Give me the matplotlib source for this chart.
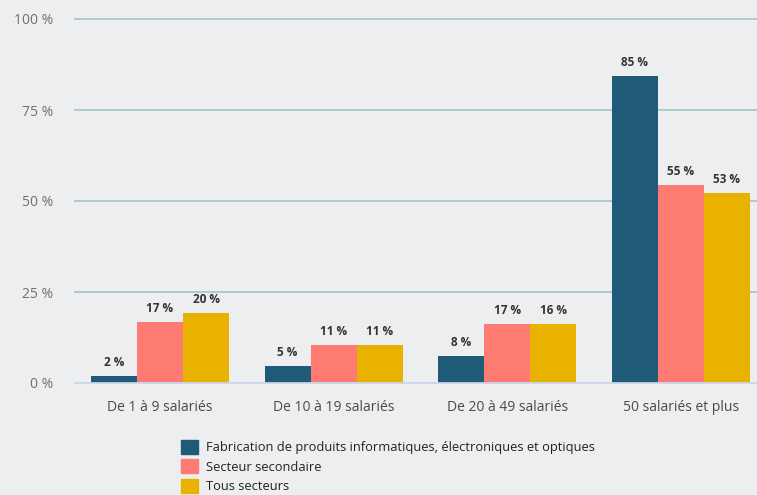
import numpy as np
import matplotlib.pyplot as plt
from matplotlib.patches import Patch

plt.rcParams['font.family'] = ['Open Sans', 'DejaVu Sans']

categories = ['De 1 à 9 salariés', 'De 10 à 19 salariés', 'De 20 à 49 salariés', '50 salariés et plus']
series = ['Fabrication de produits informatiques, électroniques et optiques',
          'Secteur secondaire', 'Tous secteurs']
fab = [1.9, 4.7, 7.4, 84.3]
secondaire = [16.8, 10.5, 16.3, 54.5]
tous = [19.3, 10.5, 16.3, 52.3]
fab_labels = ['2 %', '5 %', '8 %', '85 %']
secondaire_labels = ['17 %', '11 %', '17 %', '55 %']
tous_labels = ['20 %', '11 %', '16 %', '53 %']
yticks = [0, 25, 50, 75, 100]

colors = ['#1F5B78', '#FD7B73', '#E9B200']
bg = '#EDEEF0'

fig = plt.figure(figsize=(7.57, 4.95), dpi=100, facecolor=bg)
ax = fig.add_axes([75/757, 1-383/495, 1-75/757, (383-19)/495])
ax.set_facecolor(bg)

x = np.arange(len(categories))
w = 0.265
for i, (vals, labs) in enumerate([(fab, fab_labels), (secondaire, secondaire_labels), (tous, tous_labels)]):
    pos = x + (i - 1) * w
    ax.bar(pos, vals, width=w, color=colors[i], zorder=3)
    for px, v, lab in zip(pos, vals, labs):
        ax.annotate(lab, (px, v), xytext=(0, 5), textcoords='offset points',
                    ha='center', va='bottom', fontsize=8.5, fontweight='bold', color='#333333')

ax.set_xlim(-0.49, 3.44)
ax.set_ylim(0, 100)
ax.set_yticks(yticks)
ax.set_yticklabels([f'{t} %' for t in yticks], color='#707070', fontsize=10)
ax.set_xticks(x)
ax.set_xticklabels(categories, color='#4a4a4a', fontsize=10)
ax.tick_params(axis='y', length=0, pad=16)
ax.tick_params(axis='x', length=0, pad=12)
for t in yticks[1:]:
    ax.axhline(t, color='#A3CAC6', linewidth=1.3, zorder=1, clip_on=False)
ax.axhline(0, color='#C9D5E9', linewidth=1.3, zorder=4, clip_on=False)
for s in ax.spines.values():
    s.set_visible(False)

handles = [Patch(color=c) for c in colors]
fig.legend(handles, series, loc='upper left', bbox_to_anchor=(181/757, 1-440/495),
           frameon=False, fontsize=9.3, handlelength=1.3, handleheight=1.3,
           handletextpad=0.65, labelspacing=0.38, borderpad=0, borderaxespad=0,
           labelcolor='#222222')

fig.savefig('out.png', dpi=100, facecolor=bg)
